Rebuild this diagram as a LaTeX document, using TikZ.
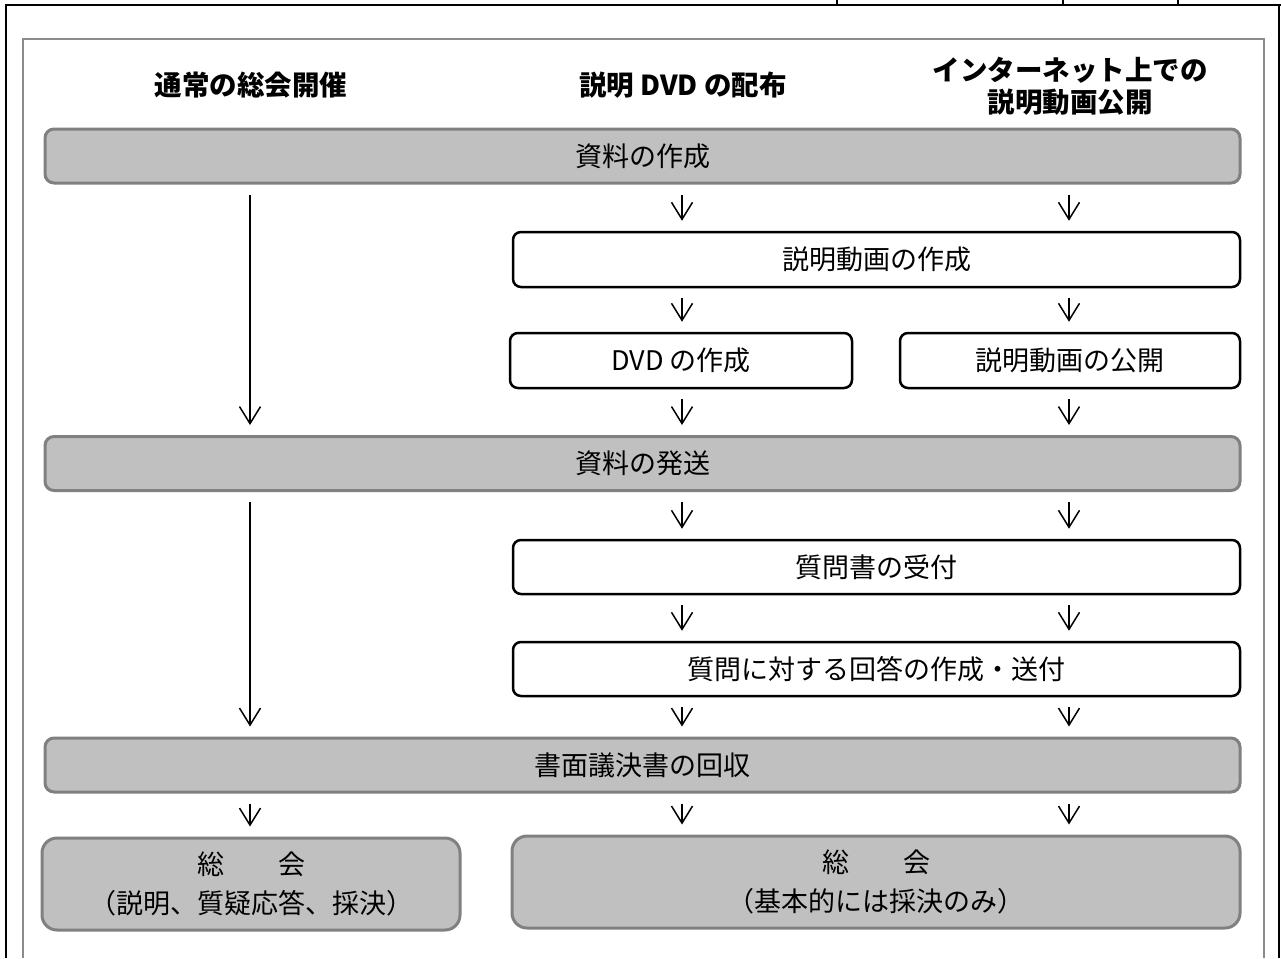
\documentclass[tikz,border=0pt]{standalone}
\usepackage{fontspec}
\setmainfont{Noto Sans CJK JP}
\usetikzlibrary{arrows.meta}
\definecolor{boxgray}{HTML}{C0C0C0}
\definecolor{edgegray}{HTML}{808080}
\definecolor{framegray}{HTML}{8C8C8C}
\begin{document}
\begin{tikzpicture}[x=1pt,y=-1pt,
  txt/.style={font=\fontsize{27}{39}\selectfont, align=center, inner sep=0pt},
  gbox/.style={txt, draw=edgegray, fill=boxgray, line width=3pt, rounded corners=9pt},
  gboxb/.style={txt, draw=edgegray, fill=boxgray, line width=3pt, rounded corners=15pt},
  wbox/.style={txt, draw=black, fill=white, line width=2.5pt, rounded corners=8pt},
  hdr/.style={font=\bfseries\fontsize{27.5}{32}\selectfont, align=center, inner sep=0pt},
  arr/.style={-{Straight Barb[length=17pt,width=21pt,line width=1.5pt]}, line width=1.5pt, shorten <=10pt, shorten >=10pt}]
\useasboundingbox (0,0) rectangle (1281,958);
% outer black frame
\draw[line width=2.5pt] (6,958) -- (6,5) -- (1281,5);
\draw[line width=2pt] (1279,5) -- (1279,958);
\draw[line width=2pt] (837,0) -- (837,5) (1063,0) -- (1063,5) (1178,0) -- (1178,5);
% gray frame
\draw[framegray, line width=2.5pt] (23,958) -- (23,39) -- (1264,39) -- (1264,958);
% headers
\node[hdr] (h1) at (251,85) {通常の総会開催};
\node[hdr] (h2) at (683,85) {説明 DVD の配布};
\node[hdr] (h3) at (1070,86) {インターネット上での\\説明動画公開};
% boxes
\node[gbox, minimum width=1195pt, minimum height=54pt] (g1) at (642.5,156) {資料の作成};
\node[wbox, minimum width=727pt, minimum height=55pt] (w1) at (876.5,259.5) {説明動画の作成};
\node[wbox, minimum width=342pt, minimum height=55pt] (w2) at (681,360.5) {DVD の作成};
\node[wbox, minimum width=340pt, minimum height=55pt] (w3) at (1070,360.5) {説明動画の公開};
\node[gbox, minimum width=1195pt, minimum height=54pt] (g2) at (642.5,463.5) {資料の発送};
\node[wbox, minimum width=727pt, minimum height=54pt] (w4) at (876.5,567) {質問書の受付};
\node[wbox, minimum width=727pt, minimum height=54pt] (w5) at (876.5,669) {質問に対する回答の作成・送付};
\node[gbox, minimum width=1195pt, minimum height=54pt] (g3) at (642.5,765) {書面議決書の回収};
\node[gboxb, minimum width=418pt, minimum height=92pt] (g4) at (251,884) {総　　会\\（説明、質疑応答、採決）};
\node[gboxb, minimum width=728pt, minimum height=92pt] (g5) at (876,882) {総　　会\\（基本的には採決のみ）};
% arrow columns
\coordinate (cL) at (250,0);
\coordinate (cM) at (682,0);
\coordinate (cR) at (1069,0);
% arrows
\draw[arr] (g1.south -| cL) -- (g2.north -| cL);
\draw[arr] (g1.south -| cM) -- (w1.north -| cM);
\draw[arr] (g1.south -| cR) -- (w1.north -| cR);
\draw[arr] (w1.south -| cM) -- (w2.north -| cM);
\draw[arr] (w1.south -| cR) -- (w3.north -| cR);
\draw[arr] (w2.south -| cM) -- (g2.north -| cM);
\draw[arr] (w3.south -| cR) -- (g2.north -| cR);
\draw[arr] (g2.south -| cL) -- (g3.north -| cL);
\draw[arr] (g2.south -| cM) -- (w4.north -| cM);
\draw[arr] (g2.south -| cR) -- (w4.north -| cR);
\draw[arr] (w4.south -| cM) -- (w5.north -| cM);
\draw[arr] (w4.south -| cR) -- (w5.north -| cR);
\draw[arr] (w5.south -| cM) -- (g3.north -| cM);
\draw[arr] (w5.south -| cR) -- (g3.north -| cR);
\draw[arr] (g3.south -| cL) -- (g4.north -| cL);
\draw[arr] (g3.south -| cM) -- (g5.north -| cM);
\draw[arr] (g3.south -| cR) -- (g5.north -| cR);
\end{tikzpicture}
\end{document}
